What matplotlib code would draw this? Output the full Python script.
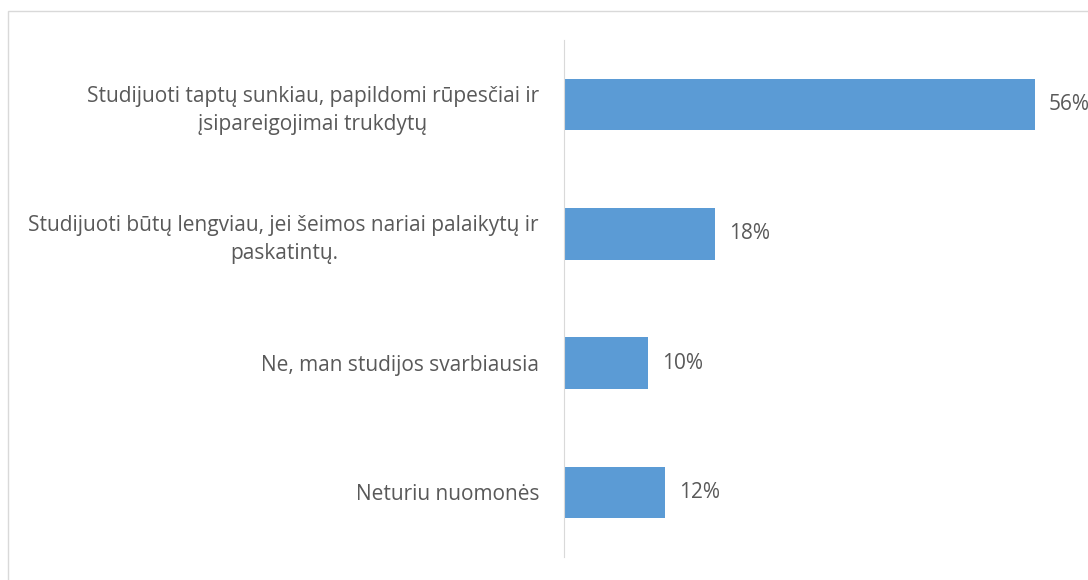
import matplotlib.pyplot as plt
from matplotlib.patches import Rectangle

categories = [
    "Studijuoti taptų sunkiau, papildomi rūpesčiai ir\nįsipareigojimai trukdytų",
    "Studijuoti būtų lengviau, jei šeimos nariai palaikytų ir\npaskatintų.",
    "Ne, man studijos svarbiausia",
    "Neturiu nuomonės",
]
values = [56, 18, 10, 12]
value_labels = ["56%", "18%", "10%", "12%"]

plt.rcParams['font.family'] = ['Open Sans', 'DejaVu Sans']
txt = '#595959'
fs = 15

W, H = 1088, 580
fig = plt.figure(figsize=(W / 100, H / 100), dpi=100)
fig.patches.append(Rectangle((8 / W, -0.1), 1.2, (H - 11) / H + 0.1, transform=fig.transFigure,
                             fill=False, edgecolor='#D9D9D9', linewidth=1))

left, right, top, bottom = 564, 564 + 8.41 * 60, 40, 557
ax = fig.add_axes([left / W, 1 - bottom / H, (right - left) / W, (bottom - top) / H])

y = list(range(len(values)))
ax.barh(y, values, height=0.4, color='#5B9BD5')
ax.set_xlim(0, 60)
ax.set_ylim(len(values) - 0.5, -0.5)

for yi, v, lab in zip(y, values, value_labels):
    ax.annotate(lab, (v, yi), xytext=(10, 0), textcoords='offset points',
                va='center', ha='left', fontsize=fs, color=txt, annotation_clip=False)

ax.set_yticks(y)
ax.set_yticklabels(categories, fontsize=fs, color=txt, multialignment='center', linespacing=1.4)
ax.tick_params(axis='y', length=0, pad=18)
ax.set_xticks([])
for s in ['top', 'right', 'bottom']:
    ax.spines[s].set_visible(False)
ax.spines['left'].set_color('#D9D9D9')

fig.savefig('out.png', dpi=100)
